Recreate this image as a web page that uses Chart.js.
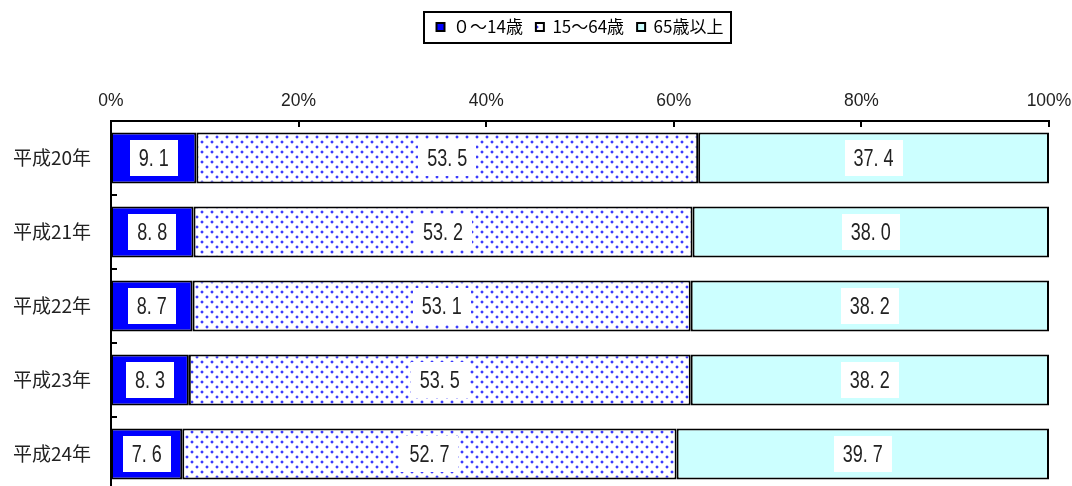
<!DOCTYPE html>
<html>
<head>
<meta charset="utf-8">
<script src="https://cdn.jsdelivr.net/npm/chart.js@4.4.0/dist/chart.umd.min.js"></script>
<style>
  html, body { margin: 0; padding: 0; background: #fff; overflow: hidden; }
  #wrap { width: 1072px; height: 520px; position: relative; }
</style>
</head>
<body>
<div id="wrap"><canvas id="myChart"></canvas></div>
<script>
// 年齢3区分別人口の割合（%）
const years = ['平成20年', '平成21年', '平成22年', '平成23年', '平成24年'];
const seriesNames = ['０～14歳', '15～64歳', '65歳以上'];
const age0to14 = [9.1, 8.8, 8.7, 8.3, 7.6];
const age15to64 = [53.5, 53.2, 53.1, 53.5, 52.7];
const age65plus = [37.4, 38.0, 38.2, 38.2, 39.7];
const xTicks = [0, 20, 40, 60, 80, 100];

const latinFont = '"Liberation Sans", Arial, sans-serif';
const jpFont = '"Noto Sans CJK JP", "Noto Sans", sans-serif';

// where the plot area sits in the reference
const target = { left: 111, top: 121, right: 1049, bottom: 491, legendMid: 27 };

// dotted fill for the middle band
function dotPattern() {
  const c = document.createElement('canvas');
  c.width = 10;
  c.height = 10;
  const g = c.getContext('2d');
  g.fillStyle = '#ffffff';
  g.fillRect(0, 0, 10, 10);
  [[1, 1], [6, 6]].forEach(([px, py]) => {
    g.fillStyle = '#c4c4ff';
    g.fillRect(px - 1, py, 4, 2);
    g.fillRect(px, py - 1, 2, 4);
    g.fillStyle = '#3a3aff';
    g.fillRect(px, py, 2, 2);
  });
  return g.createPattern(c, 'repeat');
}

// axis lines with inward tick marks, and the % labels
const axisPlugin = {
  id: 'axisLines',
  afterDatasetsDraw(chart) {
    const {ctx, chartArea: a, scales: {x, y}} = chart;
    ctx.save();
    ctx.strokeStyle = '#000';
    ctx.lineWidth = 2;
    ctx.beginPath();
    ctx.moveTo(a.left - 1, a.top);
    ctx.lineTo(a.right + 1, a.top);
    ctx.moveTo(a.left, a.top - 1);
    ctx.lineTo(a.left, a.bottom);
    xTicks.forEach(v => {
      const px = Math.round(x.getPixelForValue(v));
      ctx.moveTo(px, a.top);
      ctx.lineTo(px, a.top + 6);
    });
    const step = y.getPixelForValue(1) - y.getPixelForValue(0);
    for (let i = 0; i < years.length; i++) {
      const py = Math.round(y.getPixelForValue(i) + step / 2);
      ctx.moveTo(a.left, py);
      ctx.lineTo(a.left + 6, py);
    }
    ctx.stroke();

    ctx.fillStyle = '#222';
    ctx.font = '19px ' + latinFont;
    ctx.textAlign = 'center';
    ctx.textBaseline = 'alphabetic';
    xTicks.forEach(v => {
      ctx.save();
      ctx.translate(x.getPixelForValue(v), a.top - 15);
      ctx.scale(0.92, 1);
      ctx.fillText(v + '%', 0, 0);
      ctx.restore();
    });
    ctx.restore();
  }
};

// white boxed value labels in every segment (narrow, tall digits)
const valueLabels = {
  id: 'valueLabels',
  afterDatasetsDraw(chart) {
    const ctx = chart.ctx;
    const sx = 0.75;
    ctx.save();
    ctx.font = '24px ' + latinFont;
    ctx.textAlign = 'center';
    ctx.textBaseline = 'middle';
    chart.data.datasets.forEach((ds, di) => {
      chart.getDatasetMeta(di).data.forEach((bar, i) => {
        const txt = ds.data[i].toFixed(1).replace('.', '. ');
        const cx = (bar.x + bar.base) / 2;
        const w = ctx.measureText(txt).width * sx + 18;
        const h = 36;
        ctx.fillStyle = '#fff';
        ctx.fillRect(Math.round(cx - w / 2), Math.round(bar.y - h / 2), Math.round(w), h);
        ctx.save();
        ctx.translate(cx, bar.y + 1);
        ctx.scale(sx, 1);
        ctx.fillStyle = '#222';
        ctx.fillText(txt, 0, 0);
        ctx.restore();
      });
    });
    ctx.restore();
  }
};

// frame round the legend
const legendFrame = {
  id: 'legendFrame',
  afterDraw(chart) {
    const boxes = chart.legend.legendHitBoxes;
    if (!boxes || !boxes.length) return;
    const left = Math.min(...boxes.map(b => b.left)) - 13;
    const right = Math.max(...boxes.map(b => b.left + b.width)) + 7;
    const mid = boxes[0].top + boxes[0].height / 2;
    const ctx = chart.ctx;
    ctx.save();
    ctx.strokeStyle = '#000';
    ctx.lineWidth = 2;
    ctx.strokeRect(Math.round(left), Math.round(mid - 15), Math.round(right - left), 31);
    ctx.restore();
  }
};

let xAxisHeight = 68;

const ctx = document.getElementById('myChart').getContext('2d');
const chart = new Chart(ctx, {
  type: 'bar',
  data: {
    labels: years,
    datasets: [
      { label: seriesNames[0], data: age0to14, backgroundColor: '#0000ff' },
      { label: seriesNames[1], data: age15to64, backgroundColor: dotPattern() },
      { label: seriesNames[2], data: age65plus, backgroundColor: '#ccffff' }
    ].map(d => Object.assign(d, {
      borderColor: '#000',
      borderWidth: 2,
      borderSkipped: false,
      categoryPercentage: 1,
      barPercentage: 0.69
    }))
  },
  options: {
    indexAxis: 'y',
    responsive: true,
    maintainAspectRatio: false,
    animation: false,
    layout: { padding: { top: 14, right: 23, bottom: 29, left: 0 } },
    plugins: {
      tooltip: { enabled: false },
      legend: {
        position: 'top',
        fullSize: false,
        labels: {
          boxWidth: 8,
          boxHeight: 8,
          padding: 13,
          color: '#000',
          font: { family: jpFont, size: 17 }
        }
      }
    },
    scales: {
      x: {
        position: 'top',
        stacked: true,
        min: 0,
        max: 100,
        afterBuildTicks(scale) {
          scale.ticks = xTicks.map(v => ({ value: v }));
        },
        afterFit(scale) {
          scale.height = xAxisHeight;
          scale.paddingLeft = 0;
          scale.paddingRight = 0;
        },
        grid: { display: false },
        border: { display: false },
        ticks: { display: false }
      },
      y: {
        stacked: true,
        afterFit(scale) { scale.width = target.left; },
        grid: { display: false },
        border: { display: false },
        ticks: {
          padding: 12,
          color: '#222',
          font: { family: jpFont, size: 19 }
        }
      }
    }
  },
  plugins: [axisPlugin, valueLabels, legendFrame]
});

// nudge paddings so the plot area lands where the reference has it
for (let k = 0; k < 3; k++) {
  const a = chart.chartArea;
  const p = chart.options.layout.padding;
  const lb = chart.legend.legendHitBoxes[0];
  const dTop = target.legendMid - (lb.top + lb.height / 2);
  p.top += dTop;
  p.right = Math.max(0, p.right + a.right - target.right);
  p.bottom += a.bottom - target.bottom;
  xAxisHeight += target.top - (a.top + dTop);
  chart.update();
}
</script>
</body>
</html>
